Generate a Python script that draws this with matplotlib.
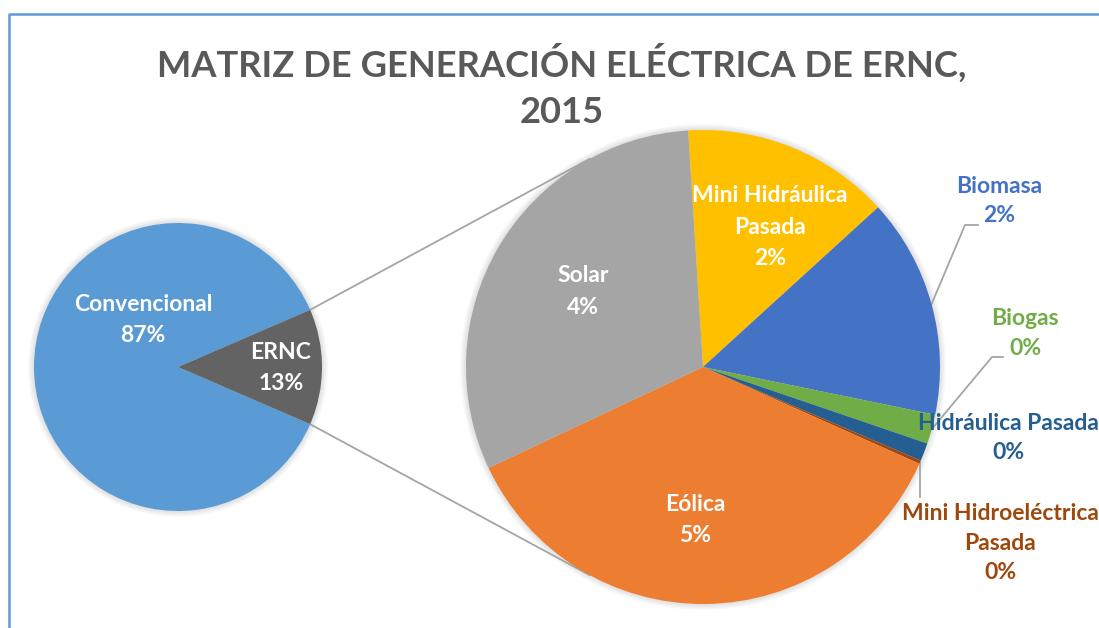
import numpy as np
import matplotlib
matplotlib.use("Agg")
import matplotlib.pyplot as plt

# ---------------- data ----------------
title = "MATRIZ DE GENERACIÓN ELÉCTRICA DE ERNC,\n2015"
main_labels = ["Convencional", "ERNC"]
main_values = [87.0, 13.0]
main_colors = ["#5B9BD5", "#636363"]

sub_labels = ["Mini Hidráulica\nPasada", "Biomasa", "Biogas", "Hidráulica Pasada",
              "Mini Hidroeléctrica\nPasada", "Eólica", "Solar"]
sub_values = [1.85, 1.95, 0.26, 0.16, 0.03, 4.72, 4.03]
sub_pct = ["2%", "2%", "0%", "0%", "0%", "5%", "4%"]
main_pct = ["87%", "13%"]
sub_colors = ["#FFC000", "#4472C4", "#70AD47", "#255E91", "#9E480E", "#ED7D31", "#A5A5A5"]

W, H = 1099, 628
FONT = ["Lato", "DejaVu Sans"]
plt.rcParams["font.family"] = FONT

fig = plt.figure(figsize=(W / 100, H / 100), dpi=100)
ax = fig.add_axes([0, 0, 1, 1])

def Y(py):
    return H - py

# geometry (pixel units)
c1, r1 = (178, Y(367)), 144
c2, r2 = (703, Y(367)), 237

# soft shadows
for (c, r) in [(c1, r1), (c2, r2)]:
    for k in range(1, 7):
        ax.add_patch(plt.Circle(c, r + k, color="black", alpha=0.018, lw=0, zorder=0))

half = main_values[1] / sum(main_values) * 360 / 2
w1, _ = ax.pie(main_values, colors=main_colors, center=c1, radius=r1,
               startangle=half, counterclock=True, frame=True,
               wedgeprops=dict(linewidth=0, zorder=2))
w2, _ = ax.pie(sub_values, colors=sub_colors, center=c2, radius=r2,
               startangle=93.6, counterclock=False, frame=True,
               wedgeprops=dict(linewidth=0, zorder=2))

# connector lines: from ERNC wedge edges to tangent points on second pie
ern = w1[1]
for ang, sign in [(ern.theta2, 1), (ern.theta1, -1)]:
    p = np.array([c1[0] + r1 * np.cos(np.radians(ang)), c1[1] + r1 * np.sin(np.radians(ang))])
    v = p - np.array(c2)
    d = np.hypot(*v)
    base = np.degrees(np.arctan2(v[1], v[0]))
    off = np.degrees(np.arccos(r2 / d))
    t = np.radians(base - sign * off)
    q = np.array([c2[0] + r2 * np.cos(t), c2[1] + r2 * np.sin(t)])
    ax.plot([p[0], q[0]], [p[1], q[1]], color="#A5A5A5", lw=1.3, zorder=1,
            solid_capstyle="butt")

def edge_point(w, c, r):
    m = np.radians((w.theta1 + w.theta2) / 2)
    return c[0] + r * np.cos(m), c[1] + r * np.sin(m)

# labels
lab_kw = dict(ha="center", va="center", fontweight="bold", fontsize=16.5,
              linespacing=1.62, zorder=5)
ax.text(143, Y(320), f"{main_labels[0]}\n{main_pct[0]}", color="white", **lab_kw)
ax.text(281, Y(368), f"{main_labels[1]}\n{main_pct[1]}", color="white", **lab_kw)

inside_pos = {0: (770, 227), 5: (695, 520), 6: (583, 291.5)}
for i, (x, y) in inside_pos.items():
    ax.text(x, Y(y), f"{sub_labels[i]}\n{sub_pct[i]}", color="white", **lab_kw)

outside_pos = {1: (999, 201), 2: (1025, 333.5), 3: (1008, 438), 4: (1000, 543)}
for i, (x, y) in outside_pos.items():
    ax.text(x, Y(y), f"{sub_labels[i]}\n{sub_pct[i]}", color=sub_colors[i],
            **{**lab_kw, "linespacing": 1.5})

# leader lines
lk = dict(color="#A5A5A5", lw=1.3, zorder=1)
ex, ey = edge_point(w2[1], c2, r2)
ax.plot([978, 965, ex], [Y(225), Y(225), ey], **lk)
ex, ey = edge_point(w2[2], c2, r2)
ax.plot([1003, 992, ex], [Y(357), Y(357), ey], **lk)
ex, ey = edge_point(w2[4], c2, r2)
ax.plot([ex, ex], [ey, Y(497)], **lk)

# title
ax.text(562, Y(86), title, ha="center", va="center", fontsize=26.2, fontweight="bold",
        color="#595959", linespacing=1.5)

# chart frame (partly cropped)
ax.plot([9, 9, W + 5], [-5, Y(14), Y(14)], color="#5B9BD5", lw=1.8, zorder=6)

ax.set_xlim(0, W)
ax.set_ylim(0, H)
ax.set_aspect("equal")
ax.axis("off")
fig.savefig("out.png", dpi=100)
